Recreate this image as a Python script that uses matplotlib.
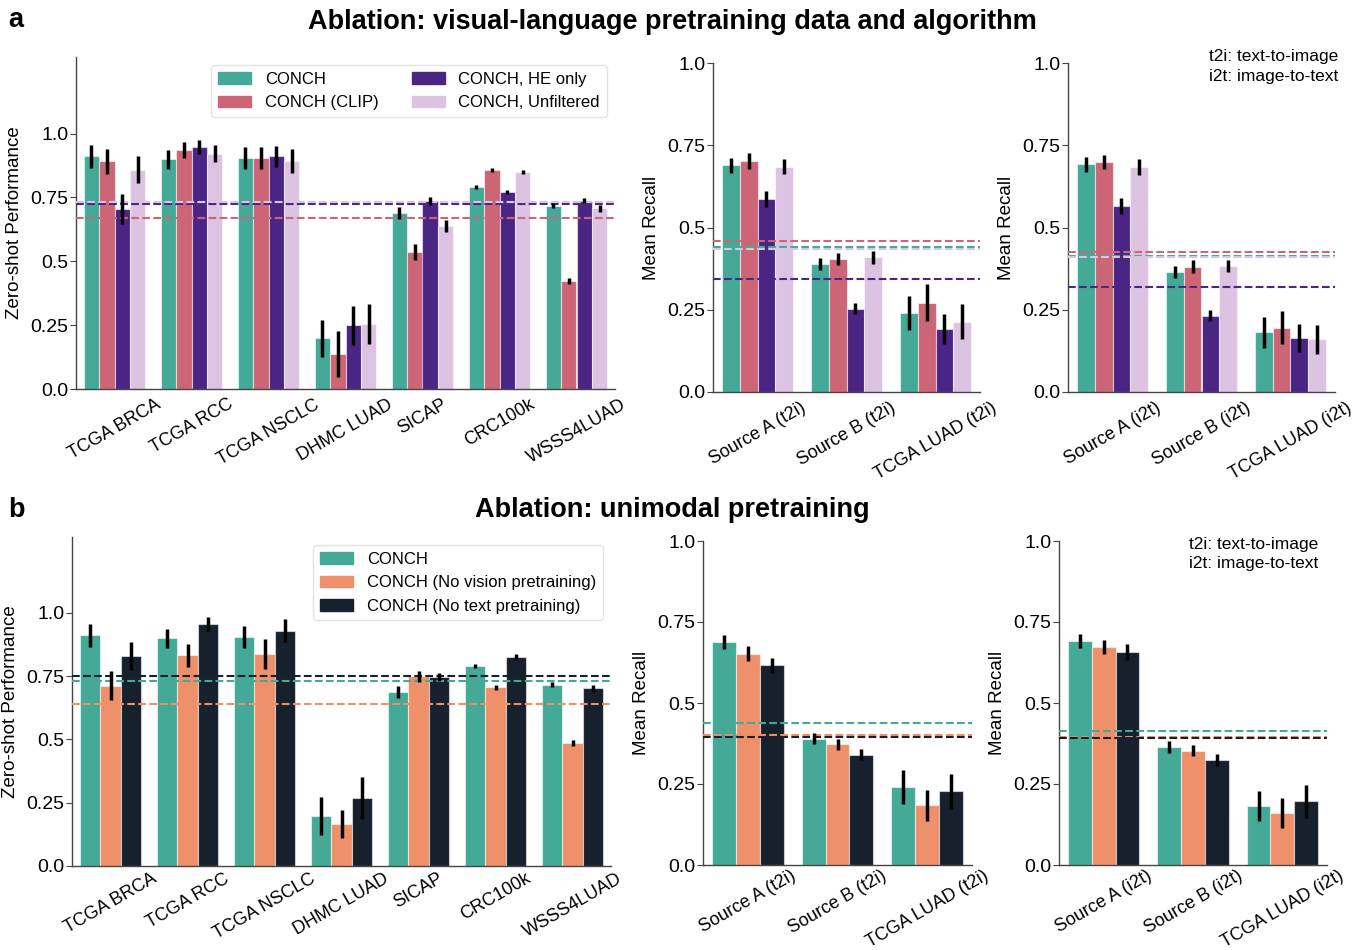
import numpy as np
import matplotlib
matplotlib.use("Agg")
import matplotlib.pyplot as plt

plt.rcParams["font.family"] = ["Liberation Sans", "DejaVu Sans"]

# ---------------- data ----------------
zs_tasks = ["TCGA BRCA", "TCGA RCC", "TCGA NSCLC", "DHMC LUAD", "SICAP", "CRC100k", "WSSS4LUAD"]
t2i_tasks = ["Source A (t2i)", "Source B (t2i)", "TCGA LUAD (t2i)"]
i2t_tasks = ["Source A (i2t)", "Source B (i2t)", "TCGA LUAD (i2t)"]

zs_yticklabels = ["0.0", "0.25", "0.5", "0.75", "1.0"]
zs_yticks = [0.0, 0.25, 0.5, 0.75, 1.0]

# series names
labels_a = ["CONCH", "CONCH (CLIP)", "CONCH, HE only", "CONCH, Unfiltered"]
labels_b = ["CONCH", "CONCH (No vision pretraining)", "CONCH (No text pretraining)"]

conch_zs = [0.911, 0.900, 0.905, 0.198, 0.688, 0.791, 0.717]
conch_zs_err = [0.045, 0.037, 0.043, 0.074, 0.023, 0.008, 0.010]
clip_zs = [0.892, 0.935, 0.905, 0.137, 0.536, 0.859, 0.424]
clip_zs_err = [0.049, 0.032, 0.044, 0.090, 0.032, 0.008, 0.012]
he_zs = [0.704, 0.948, 0.911, 0.249, 0.735, 0.773, 0.738]
he_zs_err = [0.058, 0.026, 0.042, 0.077, 0.016, 0.008, 0.009]
unf_zs = [0.859, 0.922, 0.892, 0.254, 0.638, 0.849, 0.708]
unf_zs_err = [0.053, 0.032, 0.047, 0.078, 0.023, 0.008, 0.014]
novis_zs = [0.713, 0.833, 0.839, 0.167, 0.749, 0.707, 0.486]
novis_zs_err = [0.056, 0.046, 0.059, 0.056, 0.021, 0.010, 0.013]
notext_zs = [0.831, 0.957, 0.930, 0.269, 0.747, 0.827, 0.702]
notext_zs_err = [0.056, 0.027, 0.045, 0.082, 0.015, 0.009, 0.013]

conch_t2i = [0.689, 0.389, 0.240]
conch_t2i_err = [0.022, 0.017, 0.052]
clip_t2i = [0.701, 0.404, 0.271]
clip_t2i_err = [0.024, 0.019, 0.056]
he_t2i = [0.587, 0.253, 0.191]
he_t2i_err = [0.025, 0.016, 0.045]
unf_t2i = [0.685, 0.409, 0.213]
unf_t2i_err = [0.023, 0.019, 0.053]
novis_t2i = [0.652, 0.372, 0.184]
novis_t2i_err = [0.023, 0.018, 0.049]
notext_t2i = [0.616, 0.341, 0.227]
notext_t2i_err = [0.024, 0.017, 0.054]

conch_i2t = [0.692, 0.364, 0.182]
conch_i2t_err = [0.022, 0.019, 0.047]
clip_i2t = [0.699, 0.381, 0.196]
clip_i2t_err = [0.022, 0.020, 0.051]
he_i2t = [0.566, 0.232, 0.164]
he_i2t_err = [0.025, 0.017, 0.043]
unf_i2t = [0.684, 0.383, 0.160]
unf_i2t_err = [0.024, 0.019, 0.044]
novis_i2t = [0.673, 0.353, 0.161]
novis_i2t_err = [0.022, 0.018, 0.046]
notext_i2t = [0.658, 0.324, 0.197]
notext_i2t_err = [0.024, 0.018, 0.051]

colors_a = ["#44A996", "#CC6677", "#4B2583", "#DCC3E2"]
colors_b = ["#44A996", "#EE916A", "#17212D"]

# ---------------- figure ----------------
W, H = 1353, 950
fig = plt.figure(figsize=(W / 100, H / 100), dpi=100)


def px_axes(x0, y0, x1, y1):
    return fig.add_axes([x0 / W, 1 - y1 / H, (x1 - x0) / W, (y1 - y0) / H])


def grouped_bars(ax, cats, series, errs, colors, ytop, ylabel, xpad=5):
    n = len(series)
    width = 0.8 / n
    x = np.arange(len(cats))
    for i, (vals, err, col) in enumerate(zip(series, errs, colors)):
        pos = x - 0.4 + width * (i + 0.5)
        ax.bar(pos, vals, width=width, color=col, edgecolor=(1, 1, 1, 0.55),
               linewidth=0.8, zorder=2)
        ax.errorbar(pos, vals, yerr=err, fmt="none", ecolor="black",
                    elinewidth=2.5, capsize=0, zorder=4)
    # dashed line at each series' mean over the tasks
    for vals, col in zip(series, colors):
        ax.axhline(np.mean(vals), color=col, linestyle="--", linewidth=1.5, zorder=3)
    ax.set_xlim(-0.5, len(cats) - 0.5)
    ax.set_ylim(0, ytop)
    ax.set_yticks(zs_yticks)
    ax.set_yticklabels(zs_yticklabels, fontsize=14)
    ax.set_xticks(x)
    ax.set_xticklabels(cats, rotation=30, ha="center", fontsize=13)
    ax.tick_params(axis="x", length=0, pad=xpad)
    ax.tick_params(axis="y", length=4, width=0.8, color="#444444", pad=1.5)
    for s in ("top", "right"):
        ax.spines[s].set_visible(False)
    for s in ("left", "bottom"):
        ax.spines[s].set_color("#444444")
        ax.spines[s].set_linewidth(1.0)
    ax.set_ylabel(ylabel, fontsize=13.5, labelpad=5)


# panel a
ax = px_axes(76, 57, 615, 389)
grouped_bars(ax, zs_tasks, [conch_zs, clip_zs, he_zs, unf_zs],
             [conch_zs_err, clip_zs_err, he_zs_err, unf_zs_err], colors_a, 1.3,
             "Zero-shot Performance")
handles = [plt.Rectangle((0, 0), 1, 1, color=c) for c in colors_a]
ax.legend(handles, labels_a, ncol=2, loc="upper right", fontsize=12,
          frameon=True, edgecolor="#dddddd")

ax = px_axes(713, 63, 980, 392)
grouped_bars(ax, t2i_tasks, [conch_t2i, clip_t2i, he_t2i, unf_t2i],
             [conch_t2i_err, clip_t2i_err, he_t2i_err, unf_t2i_err], colors_a, 1.0,
             "Mean Recall")

ax = px_axes(1068, 63, 1335, 392)
grouped_bars(ax, i2t_tasks, [conch_i2t, clip_i2t, he_i2t, unf_i2t],
             [conch_i2t_err, clip_i2t_err, he_i2t_err, unf_i2t_err], colors_a, 1.0,
             "Mean Recall")

# panel b
ax = px_axes(72, 537, 611, 866)
grouped_bars(ax, zs_tasks, [conch_zs, novis_zs, notext_zs],
             [conch_zs_err, novis_zs_err, notext_zs_err], colors_b, 1.3,
             "Zero-shot Performance", xpad=3)
handles = [plt.Rectangle((0, 0), 1, 1, color=c) for c in colors_b]
ax.legend(handles, labels_b, ncol=1, loc="upper right", fontsize=12,
          frameon=True, edgecolor="#dddddd")

ax = px_axes(703, 541, 972, 865)
grouped_bars(ax, t2i_tasks, [conch_t2i, novis_t2i, notext_t2i],
             [conch_t2i_err, novis_t2i_err, notext_t2i_err], colors_b, 1.0,
             "Mean Recall", xpad=1.5)

ax = px_axes(1059, 541, 1327, 865)
grouped_bars(ax, i2t_tasks, [conch_i2t, novis_i2t, notext_i2t],
             [conch_i2t_err, novis_i2t_err, notext_i2t_err], colors_b, 1.0,
             "Mean Recall", xpad=1.5)

# titles, panel letters and notes
fig.text(672 / W, 1 - 22 / H, "Ablation: visual-language pretraining data and algorithm",
         ha="center", va="center", fontsize=19.5, fontweight="bold")
fig.text(672 / W, 1 - 510 / H, "Ablation: unimodal pretraining",
         ha="center", va="center", fontsize=19.5, fontweight="bold")
fig.text(8 / W, 1 - 20 / H, "a", ha="left", va="center", fontsize=19.5, fontweight="bold")
fig.text(8 / W, 1 - 510 / H, "b", ha="left", va="center", fontsize=19.5, fontweight="bold")

note = "t2i: text-to-image\ni2t: image-to-text"
fig.text(1338 / W, 1 - 49 / H, note, ha="right", va="top", fontsize=12.5, linespacing=1.4)
fig.text(1318 / W, 1 - 537 / H, note, ha="right", va="top", fontsize=12.5, linespacing=1.35)

fig.savefig("out.png", dpi=100, facecolor="white")
